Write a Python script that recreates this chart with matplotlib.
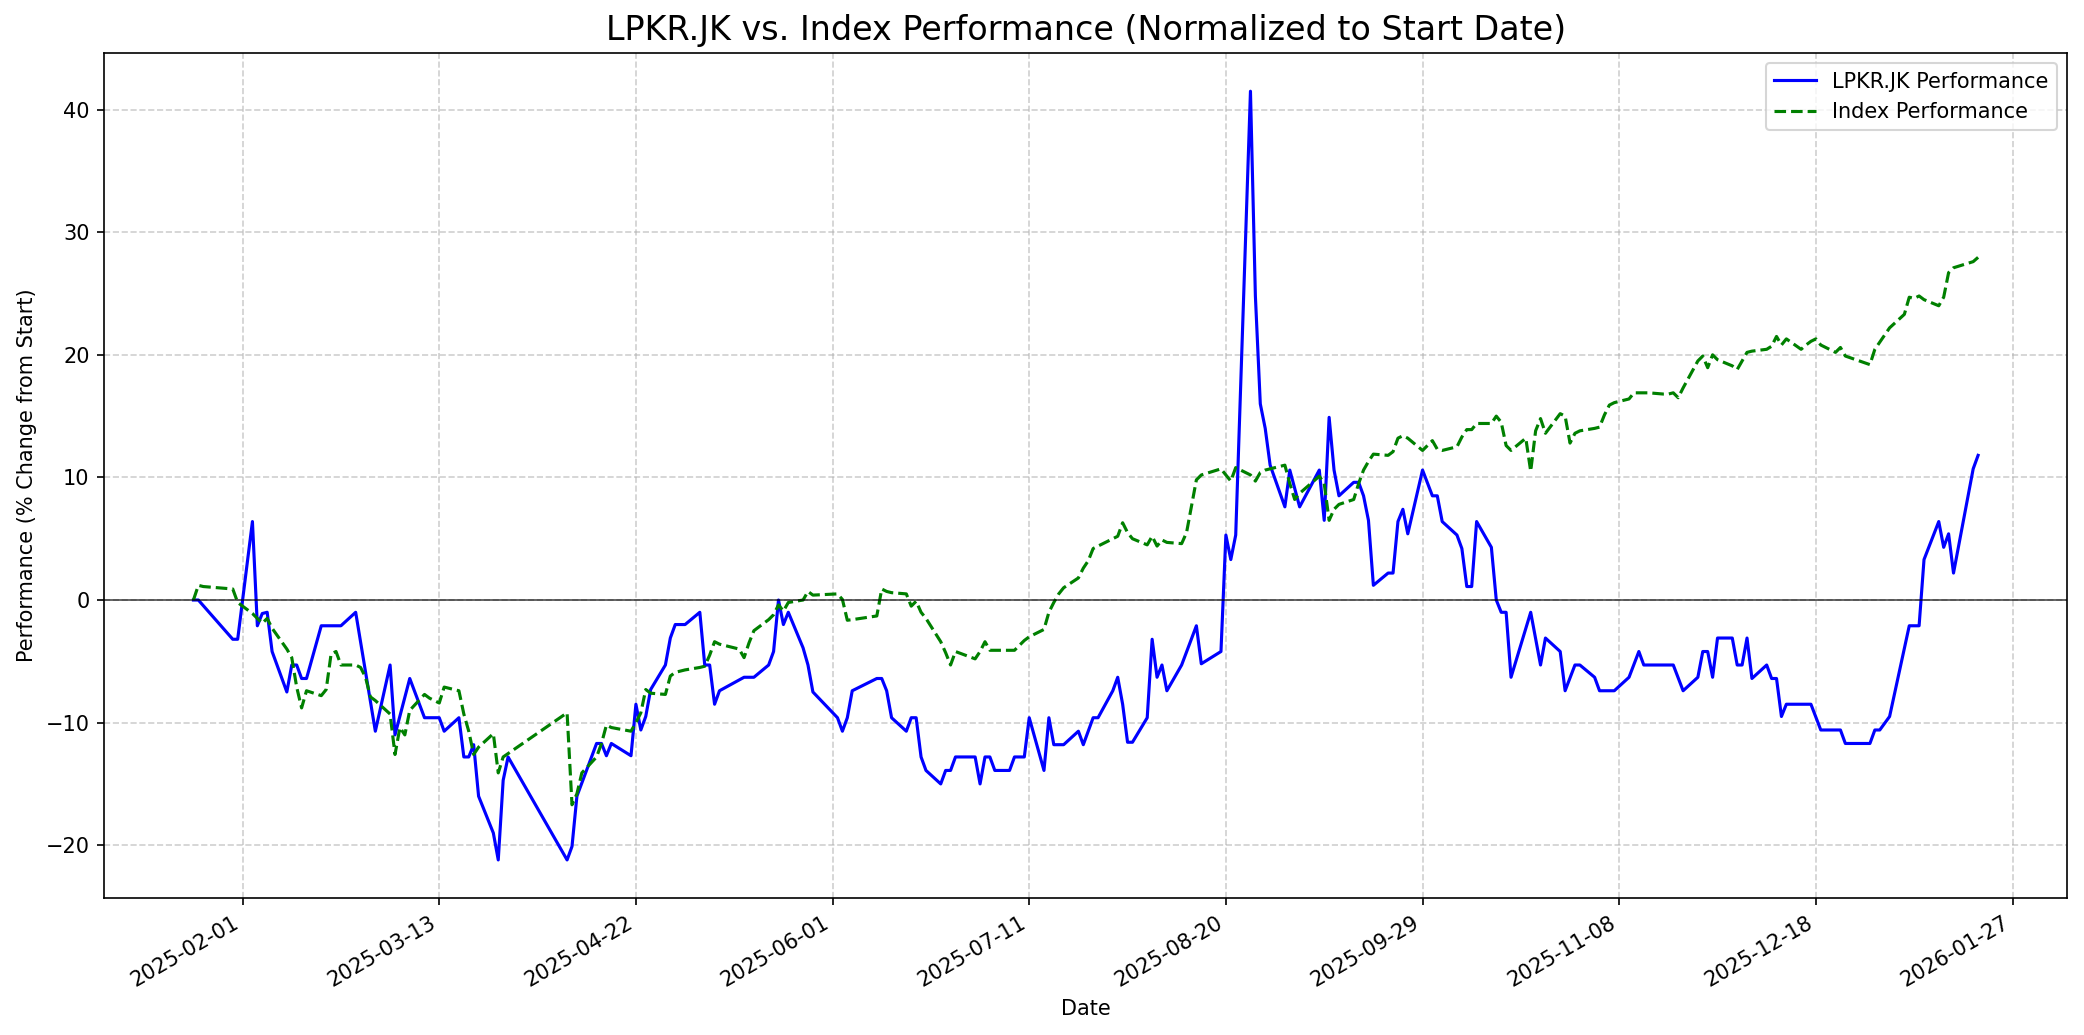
import matplotlib
matplotlib.use("Agg")
import matplotlib.pyplot as plt
import matplotlib.dates as mdates
from matplotlib.ticker import MultipleLocator
import pandas as pd

# LPKR.JK, % change from start (vertices)
stock_dates = [
    "2025-01-22", "2025-01-23", "2025-01-30", "2025-01-31", "2025-02-03", "2025-02-04",
    "2025-02-05", "2025-02-06", "2025-02-07", "2025-02-10", "2025-02-11", "2025-02-12",
    "2025-02-13", "2025-02-14", "2025-02-17", "2025-02-21", "2025-02-24", "2025-02-28",
    "2025-03-03", "2025-03-04", "2025-03-07", "2025-03-10", "2025-03-13", "2025-03-14",
    "2025-03-17", "2025-03-18", "2025-03-19", "2025-03-20", "2025-03-21", "2025-03-24",
    "2025-03-25", "2025-03-26", "2025-03-27", "2025-04-08", "2025-04-09", "2025-04-10",
    "2025-04-14", "2025-04-15", "2025-04-16", "2025-04-17", "2025-04-21", "2025-04-22",
    "2025-04-23", "2025-04-24", "2025-04-25", "2025-04-28", "2025-04-29", "2025-04-30",
    "2025-05-02", "2025-05-05", "2025-05-06", "2025-05-07", "2025-05-08", "2025-05-09",
    "2025-05-14", "2025-05-16", "2025-05-19", "2025-05-20", "2025-05-21", "2025-05-22",
    "2025-05-23", "2025-05-26", "2025-05-27", "2025-05-28", "2025-06-02", "2025-06-03",
    "2025-06-04", "2025-06-05", "2025-06-10", "2025-06-11", "2025-06-12", "2025-06-13",
    "2025-06-16", "2025-06-17", "2025-06-18", "2025-06-19", "2025-06-20", "2025-06-23",
    "2025-06-24", "2025-06-25", "2025-06-26", "2025-06-30", "2025-07-01", "2025-07-02",
    "2025-07-03", "2025-07-04", "2025-07-07", "2025-07-08", "2025-07-10", "2025-07-11",
    "2025-07-14", "2025-07-15", "2025-07-16", "2025-07-18", "2025-07-21", "2025-07-22",
    "2025-07-24", "2025-07-25", "2025-07-28", "2025-07-29", "2025-07-30", "2025-07-31",
    "2025-08-01", "2025-08-04", "2025-08-05", "2025-08-06", "2025-08-07", "2025-08-08",
    "2025-08-11", "2025-08-14", "2025-08-15", "2025-08-19", "2025-08-20", "2025-08-21",
    "2025-08-22", "2025-08-25", "2025-08-26", "2025-08-27", "2025-08-28", "2025-08-29",
    "2025-09-01", "2025-09-02", "2025-09-04", "2025-09-08", "2025-09-09", "2025-09-10",
    "2025-09-11", "2025-09-12", "2025-09-15", "2025-09-16", "2025-09-17", "2025-09-18",
    "2025-09-19", "2025-09-22", "2025-09-23", "2025-09-24", "2025-09-25", "2025-09-26",
    "2025-09-29", "2025-10-01", "2025-10-02", "2025-10-03", "2025-10-06", "2025-10-07",
    "2025-10-08", "2025-10-09", "2025-10-10", "2025-10-13", "2025-10-14", "2025-10-15",
    "2025-10-16", "2025-10-17", "2025-10-21", "2025-10-23", "2025-10-24", "2025-10-27",
    "2025-10-28", "2025-10-30", "2025-10-31", "2025-11-03", "2025-11-04", "2025-11-07",
    "2025-11-10", "2025-11-12", "2025-11-13", "2025-11-19", "2025-11-21", "2025-11-24",
    "2025-11-25", "2025-11-26", "2025-11-27", "2025-11-28", "2025-12-01", "2025-12-02",
    "2025-12-03", "2025-12-04", "2025-12-05", "2025-12-08", "2025-12-09", "2025-12-10",
    "2025-12-11", "2025-12-12", "2025-12-17", "2025-12-19", "2025-12-23", "2025-12-24",
    "2025-12-29", "2025-12-30", "2025-12-31", "2026-01-02", "2026-01-06", "2026-01-08",
    "2026-01-09", "2026-01-12", "2026-01-13", "2026-01-14", "2026-01-15", "2026-01-19",
    "2026-01-20",
]
stock_perf = [
    0.0, 0.0, -3.2, -3.2, 6.4, -2.1,
    -1.1, -1.0, -4.2, -7.5, -5.3, -5.3,
    -6.4, -6.4, -2.1, -2.1, -1.0, -10.7,
    -5.3, -11.0, -6.4, -9.6, -9.6, -10.7,
    -9.6, -12.8, -12.8, -11.8, -16.0, -19.0,
    -21.2, -14.7, -12.8, -21.2, -20.1, -16.0,
    -11.7, -11.7, -12.7, -11.7, -12.7, -8.5,
    -10.6, -9.5, -7.3, -5.3, -3.1, -2.0,
    -2.0, -1.0, -5.3, -5.3, -8.5, -7.4,
    -6.3, -6.3, -5.3, -4.2, 0.0, -2.0,
    -1.0, -3.9, -5.3, -7.5, -9.6, -10.7,
    -9.6, -7.4, -6.4, -6.4, -7.4, -9.6,
    -10.7, -9.6, -9.6, -12.8, -13.9, -15.0,
    -13.9, -13.9, -12.8, -12.8, -15.0, -12.8,
    -12.8, -13.9, -13.9, -12.8, -12.8, -9.6,
    -13.9, -9.6, -11.8, -11.8, -10.7, -11.8,
    -9.6, -9.6, -7.4, -6.3, -8.5, -11.6,
    -11.6, -9.6, -3.2, -6.3, -5.3, -7.4,
    -5.3, -2.1, -5.2, -4.2, 5.3, 3.3,
    5.3, 41.5, 24.8, 16.0, 14.0, 11.0,
    7.6, 10.6, 7.6, 10.6, 6.5, 14.9,
    10.6, 8.5, 9.6, 9.6, 8.5, 6.5,
    1.2, 2.2, 2.2, 6.4, 7.4, 5.4,
    10.6, 8.5, 8.5, 6.4, 5.3, 4.2,
    1.1, 1.1, 6.4, 4.3, 0.0, -1.0,
    -1.0, -6.3, -1.0, -5.3, -3.1, -4.2,
    -7.4, -5.3, -5.3, -6.3, -7.4, -7.4,
    -6.3, -4.2, -5.3, -5.3, -7.4, -6.3,
    -4.2, -4.2, -6.3, -3.1, -3.1, -5.3,
    -5.3, -3.1, -6.4, -5.3, -6.4, -6.4,
    -9.5, -8.5, -8.5, -10.6, -10.6, -11.7,
    -11.7, -10.6, -10.6, -9.5, -2.1, -2.1,
    3.3, 6.4, 4.3, 5.4, 2.2, 10.7,
    11.8,
]

# Index, % change from start
index_dates = [
    "2025-01-22", "2025-01-23", "2025-01-24", "2025-01-30", "2025-01-31", "2025-02-03",
    "2025-02-04", "2025-02-05", "2025-02-06", "2025-02-07", "2025-02-10", "2025-02-11",
    "2025-02-12", "2025-02-13", "2025-02-14", "2025-02-17", "2025-02-18", "2025-02-19",
    "2025-02-20", "2025-02-21", "2025-02-24", "2025-02-25", "2025-02-26", "2025-02-27",
    "2025-02-28", "2025-03-03", "2025-03-04", "2025-03-05", "2025-03-06", "2025-03-07",
    "2025-03-10", "2025-03-11", "2025-03-12", "2025-03-13", "2025-03-14", "2025-03-17",
    "2025-03-18", "2025-03-19", "2025-03-20", "2025-03-21", "2025-03-24", "2025-03-25",
    "2025-03-26", "2025-04-08", "2025-04-09", "2025-04-10", "2025-04-11", "2025-04-14",
    "2025-04-15", "2025-04-16", "2025-04-17", "2025-04-21", "2025-04-22", "2025-04-23",
    "2025-04-24", "2025-04-25", "2025-04-28", "2025-04-29", "2025-04-30", "2025-05-02",
    "2025-05-05", "2025-05-06", "2025-05-07", "2025-05-08", "2025-05-09", "2025-05-13",
    "2025-05-14", "2025-05-15", "2025-05-16", "2025-05-19", "2025-05-20", "2025-05-21",
    "2025-05-22", "2025-05-23", "2025-05-26", "2025-05-27", "2025-05-28", "2025-06-02",
    "2025-06-03", "2025-06-04", "2025-06-05", "2025-06-10", "2025-06-11", "2025-06-12",
    "2025-06-13", "2025-06-16", "2025-06-17", "2025-06-18", "2025-06-19", "2025-06-20",
    "2025-06-23", "2025-06-24", "2025-06-25", "2025-06-26", "2025-06-30", "2025-07-01",
    "2025-07-02", "2025-07-03", "2025-07-04", "2025-07-07", "2025-07-08", "2025-07-09",
    "2025-07-10", "2025-07-11", "2025-07-14", "2025-07-15", "2025-07-16", "2025-07-17",
    "2025-07-18", "2025-07-21", "2025-07-22", "2025-07-23", "2025-07-24", "2025-07-25",
    "2025-07-28", "2025-07-29", "2025-07-30", "2025-07-31", "2025-08-01", "2025-08-04",
    "2025-08-05", "2025-08-06", "2025-08-07", "2025-08-08", "2025-08-11", "2025-08-12",
    "2025-08-14", "2025-08-15", "2025-08-19", "2025-08-20", "2025-08-21", "2025-08-22",
    "2025-08-25", "2025-08-26", "2025-08-27", "2025-08-28", "2025-08-29", "2025-09-01",
    "2025-09-02", "2025-09-03", "2025-09-04", "2025-09-08", "2025-09-09", "2025-09-10",
    "2025-09-11", "2025-09-12", "2025-09-15", "2025-09-16", "2025-09-17", "2025-09-18",
    "2025-09-19", "2025-09-22", "2025-09-23", "2025-09-24", "2025-09-25", "2025-09-26",
    "2025-09-29", "2025-09-30", "2025-10-01", "2025-10-02", "2025-10-03", "2025-10-06",
    "2025-10-07", "2025-10-08", "2025-10-09", "2025-10-10", "2025-10-13", "2025-10-14",
    "2025-10-15", "2025-10-16", "2025-10-17", "2025-10-20", "2025-10-21", "2025-10-22",
    "2025-10-23", "2025-10-24", "2025-10-27", "2025-10-28", "2025-10-29", "2025-10-30",
    "2025-10-31", "2025-11-03", "2025-11-04", "2025-11-05", "2025-11-06", "2025-11-07",
    "2025-11-10", "2025-11-11", "2025-11-12", "2025-11-13", "2025-11-14", "2025-11-17",
    "2025-11-18", "2025-11-19", "2025-11-20", "2025-11-21", "2025-11-24", "2025-11-25",
    "2025-11-26", "2025-11-27", "2025-11-28", "2025-12-01", "2025-12-02", "2025-12-03",
    "2025-12-04", "2025-12-05", "2025-12-08", "2025-12-09", "2025-12-10", "2025-12-11",
    "2025-12-12", "2025-12-15", "2025-12-16", "2025-12-17", "2025-12-18", "2025-12-19",
    "2025-12-22", "2025-12-23", "2025-12-24", "2025-12-29", "2025-12-30", "2026-01-02",
    "2026-01-05", "2026-01-06", "2026-01-07", "2026-01-08", "2026-01-09", "2026-01-12",
    "2026-01-13", "2026-01-14", "2026-01-15", "2026-01-19", "2026-01-20",
]
index_perf = [
    0.0, 1.2, 1.1, 0.9, -0.2, -1.1,
    -1.5, -1.9, -1.5, -2.3, -4.0, -4.7,
    -7.1, -8.8, -7.4, -7.8, -7.3, -4.4,
    -4.2, -5.3, -5.3, -5.5, -6.3, -7.9,
    -8.2, -9.3, -12.6, -10.4, -11.0, -9.0,
    -7.7, -8.0, -8.2, -8.4, -7.1, -7.4,
    -9.3, -10.7, -12.6, -12.0, -10.9, -14.1,
    -12.8, -9.2, -16.7, -15.8, -14.1, -12.8,
    -11.7, -10.2, -10.4, -10.7, -10.0, -9.2,
    -7.3, -7.6, -7.7, -6.2, -5.9, -5.7,
    -5.5, -5.4, -4.5, -3.4, -3.6, -4.0,
    -4.7, -3.5, -2.5, -1.6, -1.2, -0.4,
    -0.9, -0.2, 0.0, 0.7, 0.4, 0.5,
    0.05, -1.65, -1.6, -1.3, 0.9, 0.7,
    0.6, 0.5, -0.5, -0.1, -1.0, -1.5,
    -3.4, -4.3, -5.3, -4.2, -4.8, -4.2,
    -3.4, -4.1, -4.1, -4.1, -4.1, -3.7,
    -3.3, -3.0, -2.4, -1.0, -0.2, 0.5,
    1.0, 1.8, 2.6, 3.2, 4.2, 4.4,
    5.0, 5.2, 6.3, 5.5, 5.0, 4.5,
    5.2, 4.4, 4.9, 4.7, 4.6, 5.5,
    9.8, 10.2, 10.7, 10.2, 9.7, 10.8,
    10.2, 9.7, 10.4, 10.6, 10.7, 11.0,
    9.5, 8.2, 8.7, 10.1, 9.5, 6.5,
    7.4, 7.8, 8.2, 9.5, 10.6, 11.3,
    11.9, 11.8, 12.1, 13.2, 13.4, 13.2,
    12.2, 12.6, 13.0, 12.3, 12.2, 12.5,
    13.3, 13.9, 13.9, 14.4, 14.4, 15.0,
    14.5, 12.6, 12.2, 13.2, 10.5, 13.8,
    14.8, 13.6, 15.2, 15.0, 12.8, 13.6,
    13.8, 14.0, 14.1, 15.1, 15.9, 16.1,
    16.4, 16.9, 16.9, 16.9, 16.9, 16.8,
    16.8, 16.9, 16.5, 17.3, 19.5, 19.9,
    18.95, 20.0, 19.6, 19.1, 18.8, 19.5,
    20.2, 20.3, 20.45, 20.7, 21.5, 20.8,
    21.3, 20.45, 20.8, 21.1, 21.3, 20.8,
    20.2, 20.6, 19.9, 19.2, 20.45, 22.2,
    23.3, 24.7, 24.6, 24.8, 24.5, 24.0,
    24.7, 26.7, 27.1, 27.6, 27.95,
]

ticker_name = "LPKR.JK"

stock = pd.Series(stock_perf, index=pd.to_datetime(stock_dates))
index = pd.Series(index_perf, index=pd.to_datetime(index_dates))

fig, ax = plt.subplots(figsize=(2084 / 150, 1035 / 150), dpi=150)

ax.plot(stock.index, stock.values, color="blue", linewidth=1.5,
        label=f"{ticker_name} Performance")
ax.plot(index.index, index.values, color="green", linestyle="--", linewidth=1.5,
        label="Index Performance")
ax.axhline(0, color="black", linewidth=0.8, alpha=0.7)

ax.set_title(f"{ticker_name} vs. Index Performance (Normalized to Start Date)", fontsize=16)
ax.set_xlabel("Date")
ax.set_ylabel("Performance (% Change from Start)")
ax.legend(loc="upper right")
ax.grid(True, linestyle="--", alpha=0.6)

ax.xaxis.set_major_locator(MultipleLocator(40))
ax.xaxis.set_major_formatter(mdates.DateFormatter("%Y-%m-%d"))
fig.autofmt_xdate()

fig.subplots_adjust(left=0.050, right=0.992, bottom=0.132, top=0.949)
fig.savefig("out.png", dpi=150)
